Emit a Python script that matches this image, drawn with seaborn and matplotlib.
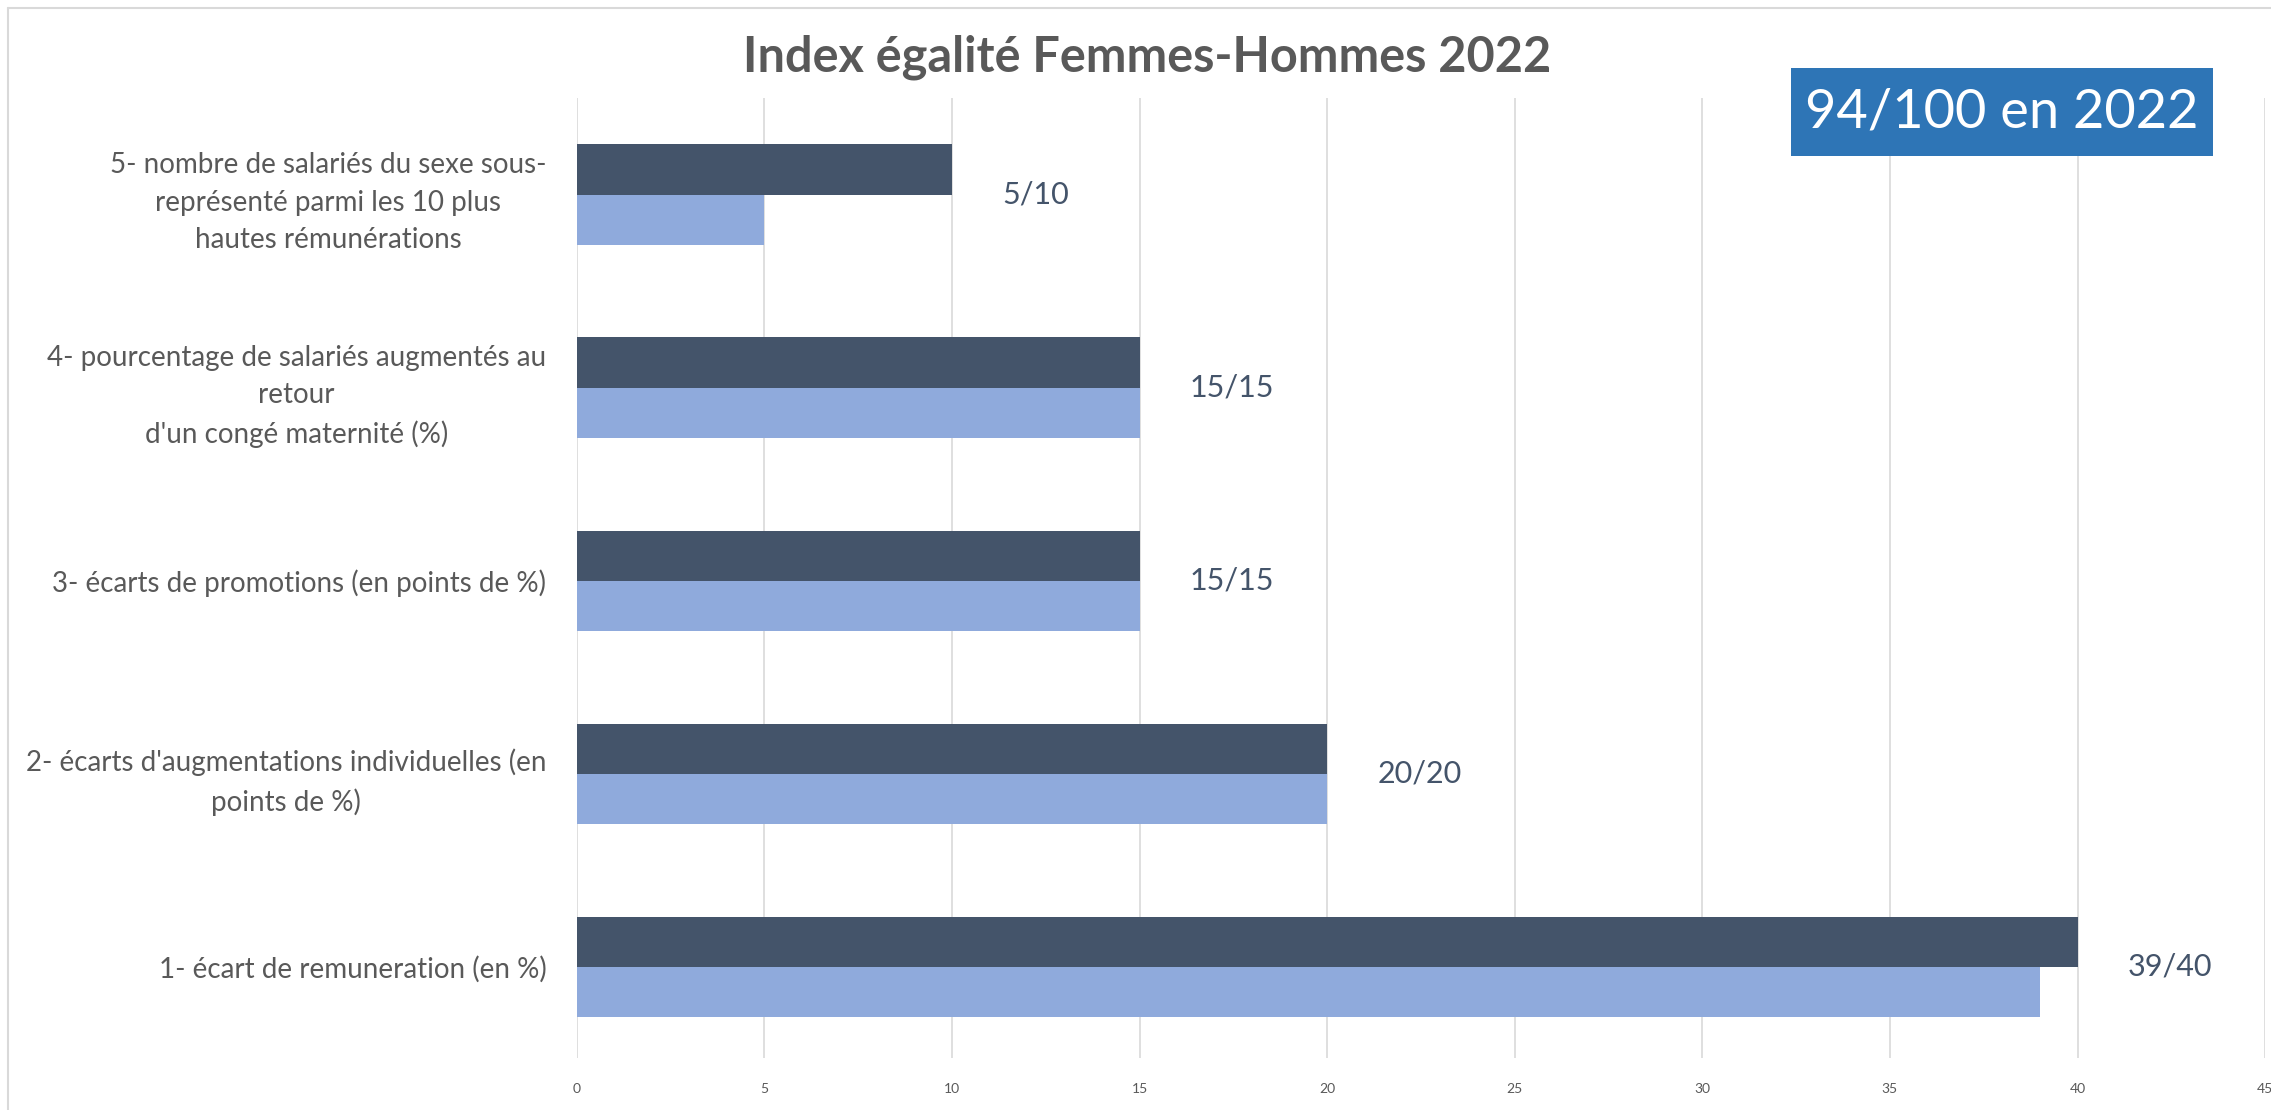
import pandas as pd
import seaborn as sns
import matplotlib.pyplot as plt
from matplotlib.patches import Rectangle
from matplotlib.lines import Line2D

# data, top to bottom as in the chart
categories = [
    "5- nombre de salariés du sexe sous-\nreprésenté parmi les 10 plus\nhautes rémunérations",
    "4- pourcentage de salariés augmentés au\nretour\nd'un congé maternité (%)",
    "3- écarts de promotions (en points de %)",
    "2- écarts d'augmentations individuelles (en\npoints de %)",
    "1- écart de remuneration (en %)",
]
points_max = [10, 15, 15, 20, 40]
points_obtenus = [5, 15, 15, 20, 39]
score_labels = ["5/10", "15/15", "15/15", "20/20", "39/40"]
xticks = [0, 5, 10, 15, 20, 25, 30, 35, 40, 45]

title = "Index égalité Femmes-Hommes 2022"
badge = "94/100 en 2022"

dark = "#44546A"
light = "#8FAADC"
grey_text = "#595959"

df = pd.DataFrame({
    "indicateur": categories * 2,
    "points": points_max + points_obtenus,
    "serie": ["max"] * len(categories) + ["obtenu"] * len(categories),
})

sns.set_style("white")
plt.rcParams["font.family"] = ["Lato", "DejaVu Sans"]

fig = plt.figure(figsize=(22.71, 11.10), dpi=100)
ax = fig.add_axes([0.254, 0.0471, 0.7434, 0.8646])

sns.barplot(data=df, y="indicateur", x="points", hue="serie", order=categories,
            hue_order=["max", "obtenu"], palette=[dark, light], saturation=1,
            orient="h", width=0.52, gap=0, linewidth=0, legend=False, ax=ax)

ax.set_xlim(0, 45)
ax.set_ylim(4.47, -0.5)
ax.set_xticks(xticks)
ax.set_xticklabels([str(t) for t in xticks], fontsize=10, color=grey_text)
ax.grid(axis="x", color="#D9D9D9", linewidth=1.2)
ax.set_axisbelow(True)
for s in ax.spines.values():
    s.set_visible(False)
ax.tick_params(axis="x", length=0, pad=18)
ax.tick_params(axis="y", length=0, pad=22)
ax.set_xlabel("")
ax.set_ylabel("")
for lab in ax.get_yticklabels():
    lab.set_fontsize(20)
    lab.set_color(grey_text)
    lab.set_multialignment("center")
    lab.set_linespacing(1.55)

for i, (m, txt) in enumerate(zip(points_max, score_labels)):
    ax.annotate(txt, xy=(m, i), xytext=(36, 0), textcoords="offset points",
                ha="left", va="center", fontsize=22, color=dark)

fig.text(0.505, 0.948, title, ha="center", va="center", fontsize=35,
         fontweight="bold", color=grey_text)

fig.add_artist(Rectangle((1791 / 2271, 1 - 156 / 1110), 422 / 2271, 88 / 1110,
                         transform=fig.transFigure, facecolor="#2E75B6",
                         edgecolor="none", zorder=5))
fig.text(2002 / 2271, 1 - 112 / 1110, badge, ha="center", va="center",
         fontsize=39, color="white", zorder=6)

# chart area border
fig.add_artist(Line2D([8 / 2271, 1], [1 - 8 / 1110, 1 - 8 / 1110],
                      transform=fig.transFigure, color="#D9D9D9", linewidth=1.5))
fig.add_artist(Line2D([8 / 2271, 8 / 2271], [0, 1 - 8 / 1110],
                      transform=fig.transFigure, color="#D9D9D9", linewidth=1.5))

fig.savefig("out.png", dpi=100)
